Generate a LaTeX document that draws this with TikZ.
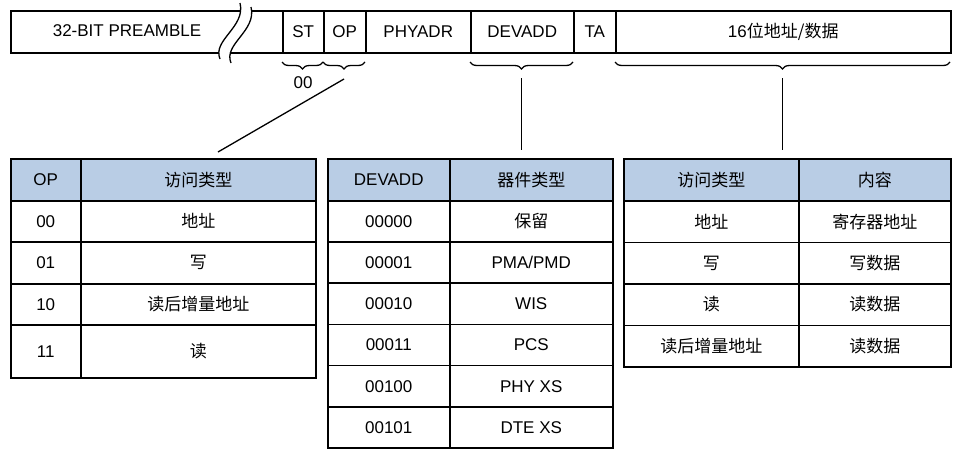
\documentclass[tikz,border=0pt]{standalone}
\usepackage{fontspec}
\setmainfont{Liberation Sans}
\newfontfamily\cjk{Noto Sans CJK SC}
\usetikzlibrary{decorations.pathreplacing}
\definecolor{headblue}{HTML}{B9CDE5}
\tikzset{
	field/.style = {draw, line width=1.5pt, minimum height=42, inner sep=0pt, anchor=north west},
	cell/.style = {draw, line width=1.5pt, inner sep=0pt, anchor=north west},
	headcell/.style = {cell, fill=headblue},
	brc/.style = {decorate, decoration={brace, amplitude=7, mirror}, line width=1.3pt},
	link/.style = {line width=1.3pt}
}
\begin{document}
\begin{tikzpicture}[x=1pt, y=-1pt, font=\fontsize{17}{20}\selectfont]
	\useasboundingbox (0,0) rectangle (960,448);
	% frame fields
	\node [field, minimum width=272] (pre) at (10,10) {};
	\node (pretext) at (127,31) {32-BIT PREAMBLE};
	\node [field, minimum width=41] (st) at (282,10) {ST};
	\node [field, minimum width=42] (op) at (323,10) {OP};
	\node [field, minimum width=105] (phy) at (365,10) {PHYADR};
	\node [field, minimum width=103] (dev) at (470,10) {DEVADD};
	\node [field, minimum width=42] (ta) at (573,10) {TA};
	\node [field, minimum width=335] (data) at (615,10) {16{\cjk 位地址/数据}};
	% break mark
	\fill [white] (220,59) .. controls (212,40) and (246,27) .. (240,3) -- (251,7) .. controls (257,31) and (223,44) .. (231,63) -- cycle;
	\draw [link] (220,59) .. controls (212,40) and (246,27) .. (240,3);
	\draw [link] (231,63) .. controls (223,44) and (257,31) .. (251,7);
	% braces
	\draw [brc] (282,62) -- (323,62);
	\draw [brc] (323,62) -- (365,62);
	\draw [brc] (470,62) -- (573,62);
	\draw [brc] (615,62) -- (950,62);
	\node (stval) at (303,83) {00};
	\coordinate (optip) at (344,79);
	\coordinate (opend) at (218,152);
	\coordinate (devtip) at (521.5,78);
	\coordinate (devend) at (521.5,150);
	\coordinate (datatip) at (782.5,78);
	\coordinate (dataend) at (782.5,150);
	\draw [link] (optip) -- (opend);
	\draw [link] (devtip) -- (devend);
	\draw [link] (datatip) -- (dataend);
	% OP table
	\node [headcell, minimum width=70, minimum height=42] (ophead) at (10,158) {OP};
	\node [headcell, minimum width=235, minimum height=42] (opkindhead) at (80,158) {\cjk 访问类型};
	\foreach \code/\kind/\y/\h [count=\i] in {00/地址/200/41, 01/写/241/42, 10/读后增量地址/283/41, 11/读/324/53} {
		\node [cell, minimum width=70, minimum height=\h] (opcode\i) at (10,\y) {\code};
		\node [cell, minimum width=235, minimum height=\h] (opkind\i) at (80,\y) {\cjk \kind};
	}
	% DEVADD table
	\node [headcell, minimum width=122, minimum height=42] (devhead) at (327,158) {DEVADD};
	\node [headcell, minimum width=163, minimum height=42] (devkindhead) at (449,158) {\cjk 器件类型};
	\foreach \code/\kind [count=\i from 0] in {00000/{\cjk 保留}, 00001/PMA\slash PMD, 00010/WIS, 00011/PCS, 00100/PHY XS, 00101/DTE XS} {
		\node [cell, minimum width=122, minimum height=41.2] (devcode\i) at (327,200+41.2*\i) {\code};
		\node [cell, minimum width=163, minimum height=41.2] (devkind\i) at (449,200+41.2*\i) {\kind};
	}
	% access table
	\node [headcell, minimum width=175, minimum height=42] (acchead) at (623,158) {\cjk 访问类型};
	\node [headcell, minimum width=152, minimum height=42] (conthead) at (798,158) {\cjk 内容};
	\foreach \kind/\cont [count=\i from 0] in {地址/寄存器地址, 写/写数据, 读/读数据, 读后增量地址/读数据} {
		\node [cell, minimum width=175, minimum height=41.5] (acc\i) at (623,200+41.5*\i) {\cjk \kind};
		\node [cell, minimum width=152, minimum height=41.5] (cont\i) at (798,200+41.5*\i) {\cjk \cont};
	}
\end{tikzpicture}
\end{document}
